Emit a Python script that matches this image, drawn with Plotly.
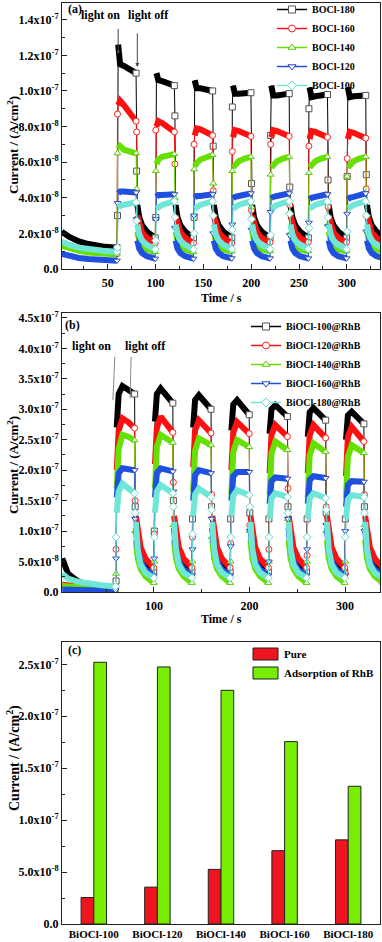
import plotly.graph_objects as go

W, H = 382, 942

# light is switched on at these times and off 20 s later
LIGHT_ON = [60, 100, 140, 180, 220, 260, 300]
ON_OFFSETS = [0.3, 1, 3, 7, 13, 19.7]
OFF_OFFSETS = [20.3, 21, 23, 26, 31, 39.7]
DARK_A = [2, 10, 20, 30, 45, 59.7]
DARK_B = [4, 10, 20, 30, 45, 59.7]

# ---- (a) pure samples, current in units of 1e-8 A/cm2 ----
names_a = ['BOCl-180', 'BOCl-160', 'BOCl-140', 'BOCl-120', 'BOCl-100']

boc180 = [2.1, 1.8, 1.55, 1.4, 1.27, 1.2,
          3.0, 12.6, 11.5, 11.4, 11.25, 11.0, 5.5, 3.6, 2.9, 2.45, 2.1, 1.75,
          2.9, 11.0, 10.6, 10.55, 10.45, 10.3, 8.6, 3.6, 2.9, 2.45, 2.1, 1.75,
          2.9, 10.6, 10.15, 10.15, 10.1, 10.0, 6.9, 3.6, 2.9, 2.45, 2.1, 1.75,
          9.1, 10.3, 9.85, 9.85, 9.85, 9.9, 4.8, 3.6, 2.9, 2.45, 2.1, 1.75,
          7.5, 10.3, 9.75, 9.75, 9.8, 9.85, 4.6, 3.6, 2.9, 2.45, 2.1, 1.75,
          9.0, 10.2, 9.65, 9.7, 9.75, 9.8, 5.0, 3.6, 2.9, 2.45, 2.1, 1.75,
          5.2, 10.2, 9.65, 9.7, 9.7, 9.75, 5.3, 3.6, 2.9, 2.45, 2.1, 1.75]
boc160 = [1.5, 1.3, 1.12, 1.0, 0.92, 0.86,
          8.7, 9.2, 9.45, 9.2, 8.8, 8.3, 7.7, 3.0, 2.45, 2.05, 1.75, 1.45,
          7.8, 8.0, 8.3, 8.2, 8.0, 7.7, 5.9, 3.0, 2.45, 2.05, 1.75, 1.45,
          7.0, 7.5, 7.9, 7.85, 7.7, 7.5, 4.4, 3.0, 2.45, 2.05, 1.75, 1.45,
          6.6, 7.4, 7.8, 7.75, 7.6, 7.45, 3.3, 3.0, 2.45, 2.05, 1.75, 1.5,
          7.0, 7.4, 7.8, 7.75, 7.6, 7.45, 3.6, 3.0, 2.45, 2.05, 1.75, 1.5,
          6.9, 7.3, 7.75, 7.7, 7.55, 7.4, 3.5, 3.0, 2.45, 2.05, 1.75, 1.5,
          6.2, 7.3, 7.7, 7.65, 7.5, 7.35, 4.5, 3.0, 2.45, 2.05, 1.75, 1.5]
boc140 = [1.3, 1.15, 1.02, 0.93, 0.86, 0.82,
          6.5, 6.75, 6.9, 6.7, 6.6, 6.5, 4.5, 2.1, 1.6, 1.3, 1.1, 0.95,
          5.5, 5.9, 6.15, 6.3, 6.35, 6.45, 4.0, 2.1, 1.6, 1.3, 1.1, 0.95,
          5.6, 5.75, 5.95, 6.15, 6.3, 6.4, 4.8, 2.1, 1.6, 1.3, 1.1, 0.98,
          5.5, 5.7, 5.85, 6.05, 6.2, 6.3, 3.5, 2.1, 1.6, 1.3, 1.1, 1.0,
          5.3, 5.7, 5.85, 6.05, 6.2, 6.3, 3.2, 2.1, 1.6, 1.3, 1.1, 1.0,
          5.4, 5.7, 5.85, 6.05, 6.2, 6.3, 2.5, 2.1, 1.6, 1.3, 1.1, 1.0,
          5.2, 5.7, 5.85, 6.05, 6.2, 6.3, 3.0, 2.1, 1.6, 1.3, 1.1, 1.0]
boc120 = [0.85, 0.72, 0.62, 0.56, 0.5, 0.47,
          3.7, 4.25, 4.35, 4.35, 4.35, 4.3, 2.8, 1.6, 1.15, 0.9, 0.72, 0.58,
          2.8, 4.05, 4.15, 4.15, 4.2, 4.2, 2.3, 1.6, 1.15, 0.9, 0.72, 0.58,
          3.0, 4.0, 4.1, 4.1, 4.15, 4.2, 2.0, 1.6, 1.15, 0.9, 0.72, 0.6,
          2.5, 3.95, 4.05, 4.1, 4.2, 4.25, 2.2, 1.6, 1.15, 0.9, 0.72, 0.6,
          3.2, 3.95, 4.05, 4.1, 4.2, 4.25, 1.9, 1.6, 1.15, 0.9, 0.72, 0.6,
          2.6, 3.9, 4.0, 4.05, 4.15, 4.2, 2.4, 1.6, 1.15, 0.9, 0.72, 0.6,
          3.1, 3.9, 4.0, 4.05, 4.15, 4.25, 2.1, 1.6, 1.15, 0.9, 0.72, 0.6]
boc100 = [1.55, 1.35, 1.2, 1.1, 1.02, 0.97,
          1.2, 3.45, 3.55, 3.6, 3.7, 3.75, 2.7, 2.5, 1.95, 1.6, 1.35, 1.1,
          1.6, 3.4, 3.5, 3.6, 3.7, 3.8, 2.9, 2.5, 1.95, 1.6, 1.35, 1.1,
          2.0, 3.4, 3.5, 3.6, 3.7, 3.8, 3.0, 2.5, 1.95, 1.6, 1.35, 1.12,
          2.2, 3.4, 3.5, 3.6, 3.7, 3.8, 2.8, 2.5, 1.95, 1.6, 1.35, 1.12,
          1.9, 3.4, 3.5, 3.6, 3.7, 3.8, 3.1, 2.5, 1.95, 1.6, 1.35, 1.12,
          2.3, 3.4, 3.5, 3.6, 3.7, 3.8, 2.9, 2.5, 1.95, 1.6, 1.35, 1.12,
          2.1, 3.4, 3.5, 3.6, 3.7, 3.8, 3.0, 2.5, 1.95, 1.6, 1.35, 1.12]

# ---- (b) after RhB adsorption, units of 1e-8 A/cm2 ----
names_b = ['BiOCl-100@RhB', 'BiOCl-120@RhB', 'BiOCl-140@RhB',
           'BiOCl-160@RhB', 'BiOCl-180@RhB']

bi100 = [5.5, 3.0, 1.8, 1.2, 0.8, 0.6,
         1.8, 27.0, 32.5, 33.8, 33.3, 32.5, 14.0, 10.5, 8.0, 6.0, 4.5, 3.3,
         10.0, 28.0, 32.5, 33.4, 32.3, 31.0, 15.0, 10.5, 8.0, 6.0, 4.5, 3.3,
         12.0, 27.0, 31.5, 32.3, 31.3, 30.0, 14.0, 10.5, 8.0, 6.0, 4.5, 3.3,
         12.0, 26.5, 30.8, 31.5, 30.4, 29.1, 13.0, 10.5, 8.0, 6.0, 4.5, 3.3,
         12.0, 26.0, 30.0, 30.7, 29.8, 28.8, 14.0, 10.5, 8.0, 6.0, 4.5, 3.3,
         12.0, 25.5, 29.5, 30.2, 29.3, 28.2, 13.0, 10.5, 8.0, 6.0, 4.5, 3.3,
         12.0, 25.0, 29.0, 29.6, 28.7, 27.6, 14.0, 10.5, 8.0, 6.0, 4.5, 3.3]
bi120 = [1.2, 1.0, 0.9, 0.8, 0.7, 0.6,
         7.0, 20.0, 26.5, 28.5, 27.9, 26.9, 15.0, 12.5, 9.5, 7.3, 5.5, 4.0,
         9.5, 21.0, 27.0, 28.8, 27.7, 26.2, 18.0, 12.5, 9.5, 7.3, 5.5, 4.0,
         9.0, 20.5, 26.5, 28.2, 27.3, 26.1, 16.0, 12.5, 9.5, 7.3, 5.5, 4.0,
         8.0, 20.0, 26.2, 27.9, 27.1, 26.0, 11.0, 12.5, 9.5, 7.3, 5.5, 4.0,
         7.0, 19.5, 25.8, 27.4, 26.6, 25.5, 17.0, 12.5, 9.5, 7.3, 5.5, 4.0,
         6.0, 19.5, 25.8, 27.4, 26.5, 25.3, 14.0, 12.5, 9.5, 7.3, 5.5, 4.0,
         3.0, 19.0, 25.5, 27.1, 26.0, 24.7, 16.0, 12.5, 9.5, 7.3, 5.5, 4.0]
bi140 = [1.0, 0.9, 0.8, 0.7, 0.6, 0.55,
         3.0, 17.0, 23.5, 25.8, 25.5, 24.9, 10.0, 8.5, 5.5, 3.8, 2.6, 1.5,
         5.0, 17.0, 23.8, 25.8, 25.2, 24.5, 11.0, 8.5, 5.5, 3.8, 2.6, 1.5,
         5.0, 16.5, 23.2, 25.2, 24.7, 24.1, 9.0, 8.5, 5.5, 3.8, 2.6, 1.5,
         5.0, 16.0, 23.0, 24.95, 24.4, 23.8, 10.0, 8.5, 5.5, 3.8, 2.6, 1.5,
         5.0, 16.0, 22.7, 24.7, 24.0, 23.3, 12.0, 8.5, 5.5, 3.8, 2.6, 1.5,
         5.0, 15.5, 22.4, 24.4, 23.7, 23.0, 10.0, 8.5, 5.5, 3.8, 2.6, 1.5,
         5.0, 15.5, 22.2, 24.1, 23.5, 22.8, 11.0, 8.5, 5.5, 3.8, 2.6, 1.5]
bi160 = [0.4, 0.35, 0.3, 0.3, 0.3, 0.3,
         5.5, 15.5, 19.5, 20.3, 20.2, 20.0, 12.0, 10.5, 7.0, 5.0, 3.7, 2.7,
         5.5, 15.5, 19.5, 20.3, 20.1, 19.8, 16.5, 10.5, 7.0, 5.0, 3.7, 2.7,
         7.0, 15.0, 19.2, 20.0, 19.8, 19.5, 12.0, 10.5, 7.0, 5.0, 3.7, 2.7,
         7.5, 15.0, 19.0, 19.7, 19.7, 19.7, 10.0, 10.5, 7.0, 5.0, 3.7, 2.7,
         5.0, 14.5, 18.2, 18.8, 18.7, 18.6, 12.0, 10.5, 7.0, 5.0, 3.7, 2.7,
         7.0, 14.5, 18.4, 19.0, 18.9, 18.7, 11.0, 10.5, 7.0, 5.0, 3.7, 2.7,
         10.0, 14.0, 17.6, 18.2, 18.2, 18.1, 10.0, 10.5, 7.0, 5.0, 3.7, 2.7]
bi180 = [3.0, 2.2, 1.7, 1.4, 1.1, 0.9,
         9.0, 13.0, 16.5, 17.8, 17.0, 16.2, 13.0, 11.5, 7.0, 4.5, 3.2, 2.3,
         9.0, 13.0, 16.5, 17.55, 17.0, 16.2, 14.0, 11.5, 7.0, 4.5, 3.2, 2.3,
         9.5, 12.5, 16.0, 17.0, 16.3, 15.6, 13.5, 11.5, 7.0, 4.5, 3.2, 2.3,
         9.0, 12.5, 15.8, 16.7, 16.3, 15.9, 14.0, 11.5, 7.0, 4.5, 3.2, 2.3,
         9.0, 12.0, 15.4, 16.2, 16.0, 15.6, 13.0, 11.5, 7.0, 4.5, 3.2, 2.3,
         9.0, 12.0, 15.4, 16.2, 15.8, 15.4, 13.5, 11.5, 7.0, 4.5, 3.2, 2.3,
         9.0, 12.0, 15.2, 15.9, 15.8, 15.6, 13.0, 11.5, 7.0, 4.5, 3.2, 2.3]

# ---- (c) photocurrent summary, units of 1e-8 A/cm2 ----
samples = ['BiOCl-100', 'BiOCl-120', 'BiOCl-140', 'BiOCl-160', 'BiOCl-180']
pure = [2.55, 3.55, 5.26, 7.06, 8.1]
rhb = [25.2, 24.75, 22.5, 17.56, 13.26]
bar_names = ['Pure', 'Adsorption of RhB']

# tick labels
yvals_a = [0, 2, 4, 6, 8, 10, 12, 14]
ytext_a = ['0.0', '2.0x10<sup>-8</sup>', '4.0x10<sup>-8</sup>', '6.0x10<sup>-8</sup>',
           '8.0x10<sup>-8</sup>', '1.0x10<sup>-7</sup>', '1.2x10<sup>-7</sup>',
           '1.4x10<sup>-7</sup>']
yvals_b = [0, 5, 10, 15, 20, 25, 30, 35, 40, 45]
ytext_b = ['0.0', '5.0x10<sup>-8</sup>', '1.0x10<sup>-7</sup>', '1.5x10<sup>-7</sup>',
           '2.0x10<sup>-7</sup>', '2.5x10<sup>-7</sup>', '3.0x10<sup>-7</sup>',
           '3.5x10<sup>-7</sup>', '4.0x10<sup>-7</sup>', '4.5x10<sup>-7</sup>']
yvals_c = [0, 5, 10, 15, 20, 25]
ytext_c = ['0.0', '5.0x10<sup>-8</sup>', '1.0x10<sup>-7</sup>', '1.5x10<sup>-7</sup>',
           '2.0x10<sup>-7</sup>', '2.5x10<sup>-7</sup>']

COLORS = ['#000000', '#ff1010', '#66e000', '#2050e0', '#6fe6d6']
MARK_COLORS = ['#555555', '#ff2020', '#55cc00', '#2a46c0', '#60dccc']
SYMBOLS = ['square', 'circle', 'triangle-up', 'triangle-down', 'diamond']
BAR_COLORS = ['#ee1520', '#77ee00']
FONT = 'Liberation Serif'
AX = '#222222'


def px(x):
    return x / W


def py(y):
    return 1 - y / H


def time_grid(dark):
    t = list(dark)
    for t0 in LIGHT_ON:
        t += [t0 + o for o in ON_OFFSETS + OFF_OFFSETS]
    return t


def add_series(fig, t, v, i, name, xa, ya, legend):
    nd = 6
    segs = [range(0, nd)]
    marks = [nd - 1]
    for k in range(len(LIGHT_ON)):
        b = nd + 12 * k
        segs += [range(b + 1, b + 6), range(b + 7, b + 12)]
        marks += [b, b + 5, b + 6, b + 11]
    bx, by = [], []
    for s in segs:
        bx += [t[j] for j in s] + [None]
        by += [v[j] for j in s] + [None]
    c = COLORS[i]
    # dense markers in the original read as a thick band
    fig.add_trace(go.Scatter(x=bx, y=by, mode='lines', line=dict(color=c, width=6),
                             xaxis=xa, yaxis=ya, showlegend=False, hoverinfo='skip'))
    fig.add_trace(go.Scatter(x=t, y=v, mode='lines', line=dict(color=c, width=1),
                             xaxis=xa, yaxis=ya, showlegend=False, hoverinfo='skip'))
    mk = dict(symbol=SYMBOLS[i], size=6, color='white',
              line=dict(color=MARK_COLORS[i], width=1))
    fig.add_trace(go.Scatter(x=[t[j] for j in marks], y=[v[j] for j in marks],
                             mode='markers', marker=mk, xaxis=xa, yaxis=ya,
                             showlegend=False, hoverinfo='skip'))
    fig.add_trace(go.Scatter(x=[None], y=[None], mode='lines+markers', name=name,
                             line=dict(color=c, width=1.5),
                             marker=dict(symbol=SYMBOLS[i], size=7, color='white',
                                         line=dict(color=MARK_COLORS[i], width=1)),
                             xaxis=xa, yaxis=ya, legend=legend))


fig = go.Figure()

t_a = time_grid(DARK_A)
for i, (nm, vals) in enumerate(zip(names_a, [boc180, boc160, boc140, boc120, boc100])):
    add_series(fig, t_a, vals, i, nm, 'x', 'y', 'legend')

t_b = time_grid(DARK_B)
for i, (nm, vals) in enumerate(zip(names_b, [bi100, bi120, bi140, bi160, bi180])):
    add_series(fig, t_b, vals, i, nm, 'x2', 'y2', 'legend2')

bar_line = dict(color='#222222', width=1)
for nm, vals, col in zip(bar_names, [pure, rhb], BAR_COLORS):
    fig.add_trace(go.Bar(x=samples, y=vals, name=nm, marker=dict(color=col, line=bar_line),
                         xaxis='x3', yaxis='y3', showlegend=False))

xdom = [px(62), px(380)]
base = dict(showline=True, linecolor=AX, linewidth=1, mirror=True, showgrid=False,
            zeroline=False, ticks='inside', ticklen=5, tickcolor=AX, automargin=False,
            tickfont=dict(size=12, color='black'))
minor_x = dict(ticks='inside', ticklen=3, tickcolor=AX)
leg = dict(xanchor='left', yanchor='top', bgcolor='rgba(0,0,0,0)')

fig.update_layout(
    width=W, height=H, margin=dict(l=0, r=0, t=0, b=0, autoexpand=False),
    paper_bgcolor='white', plot_bgcolor='white',
    font=dict(family=FONT, color='black', weight='bold'),
    barmode='group', bargap=0.6, bargroupgap=0,
    xaxis=dict(base, domain=xdom, anchor='y', range=[2.3, 334.6], tick0=0, dtick=50,
               minor=dict(minor_x, tick0=0, dtick=25), ticklabelstandoff=3),
    yaxis=dict(base, domain=[py(269), py(3)], anchor='x', range=[0, 14.94],
               tickmode='array', tickvals=yvals_a, ticktext=ytext_a,
               minor=dict(minor_x, tickmode='linear', tick0=0, dtick=1)),
    xaxis2=dict(base, domain=xdom, anchor='y2', range=[3.7, 336.6], tick0=0, dtick=100,
                minor=dict(minor_x, tick0=0, dtick=50), ticklabelstandoff=3),
    yaxis2=dict(base, domain=[py(592), py(313)], anchor='x2', range=[0, 45.8],
                tickmode='array', tickvals=yvals_b, ticktext=ytext_b,
                minor=dict(minor_x, tickmode='linear', tick0=0, dtick=2.5)),
    xaxis3=dict(base, domain=xdom, anchor='y3', ticks='', tickfont=dict(size=11, color='black')),
    yaxis3=dict(base, domain=[py(924), py(642)], anchor='x3', range=[0, 27.15],
                tickmode='array', tickvals=yvals_c, ticktext=ytext_c,
                minor=dict(minor_x, tickmode='linear', tick0=0, dtick=2.5)),
    legend=dict(leg, x=px(272), y=py(-5), font=dict(size=10)),
    legend2=dict(leg, x=px(246), y=py(312), font=dict(size=10)),
)

ann = []


def label(text, x, y, size=12, angle=0, anchor='center'):
    ann.append(dict(text=text, x=px(x), y=py(y), xref='paper', yref='paper',
                    showarrow=False, xanchor=anchor, yanchor='middle',
                    textangle=angle, font=dict(size=size)))


label('(a)', 66, 9, anchor='left')
label('light on', 100, 15)
label('light off', 148, 15)
label('(b)', 63, 325, anchor='left')
label('light on', 91, 346)
label('light off', 145, 346)
label('(c)', 66, 650, anchor='left')
ytitle = 'Current / (A/cm<sup>2</sup>)'
label(ytitle, 13, 145, size=13, angle=-90)
label(ytitle, 13, 465, size=13, angle=-90)
label(ytitle, 13, 758, size=14, angle=-90)
label('Time / s', 221, 298)
label('Time / s', 221, 619)

# key of panel (c): wide swatches as in the original
shapes = []
for k, (nm, col) in enumerate(zip(bar_names, BAR_COLORS)):
    yc = 654 + 19 * k
    shapes.append(dict(type='rect', xref='paper', yref='paper',
                       x0=px(253), x1=px(278), y0=py(yc + 6), y1=py(yc - 6),
                       fillcolor=col, line=dict(color='#222222', width=1)))
    label(nm, 282, yc, size=11, anchor='left')

# arrows pointing at light switching
ann.append(dict(text='', x=61, y=12.05, xref='x', yref='y', ax=0, ay=-27,
                showarrow=True, arrowhead=2, arrowsize=0.8, arrowwidth=1, arrowcolor='#444'))
ann.append(dict(text='', x=81, y=11.35, xref='x', yref='y', ax=0, ay=-35,
                showarrow=True, arrowhead=2, arrowsize=0.8, arrowwidth=1, arrowcolor='#444'))
ann.append(dict(text='', x=57, y=31.5, xref='x2', yref='y2', ax=2, ay=-45,
                showarrow=True, arrowhead=0, arrowwidth=1, arrowcolor='#888'))
ann.append(dict(text='', x=75, y=31.8, xref='x2', yref='y2', ax=1, ay=-43,
                showarrow=True, arrowhead=0, arrowwidth=1, arrowcolor='#888'))
fig.update_layout(annotations=ann, shapes=shapes)

# the page's default body margin would shift the 382x942 figure
fig.write_html('out.html', config={'displayModeBar': False},
               post_script="document.body.style.margin='0';")
